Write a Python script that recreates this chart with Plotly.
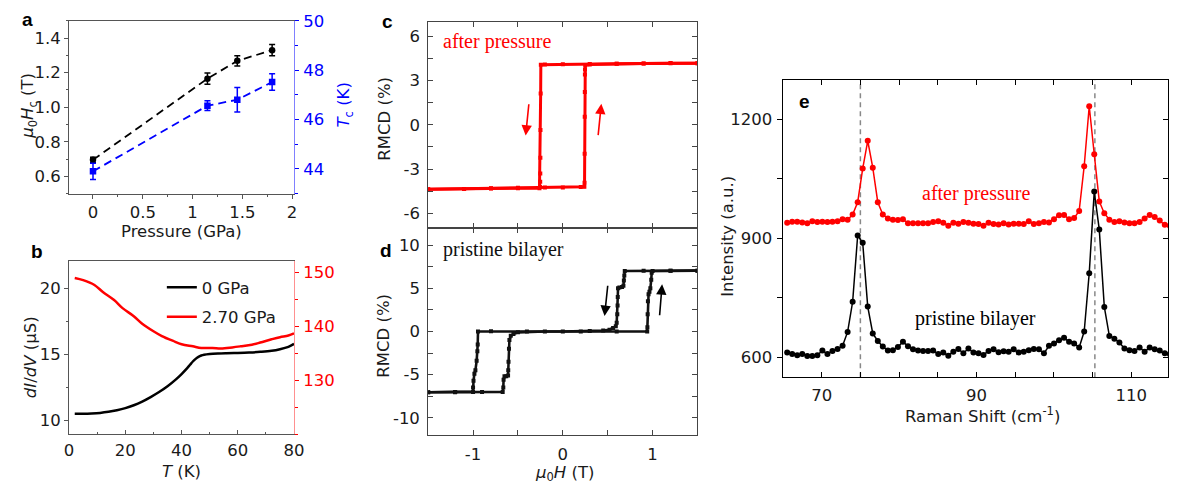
import plotly.graph_objects as go

W, H = 1179, 491

# ---------------- data ----------------
# panel a
pressure = [0.0, 1.15, 1.45, 1.80]
hc = [0.695, 1.165, 1.268, 1.33]
hc_err = [0.015, 0.033, 0.03, 0.033]
tc = [43.9, 46.56, 46.8, 47.52]
tc_err = [0.33, 0.2, 0.5, 0.33]

# panel b
temp_0 = [2, 5, 8, 11, 14, 17, 20, 23, 26, 29, 32, 35, 38, 40, 42, 43, 44, 45, 46, 47, 48, 50, 53, 56, 60, 64, 68, 72, 75, 78, 80]
didv_0 = [10.5, 10.5, 10.52, 10.56, 10.64, 10.76, 10.92, 11.14, 11.42, 11.76, 12.14, 12.58, 13.1, 13.5, 13.95, 14.2, 14.45, 14.65, 14.8, 14.9, 14.96, 15.02, 15.06, 15.08, 15.1, 15.13, 15.18, 15.26, 15.38, 15.56, 15.78]
temp_27 = [2, 5, 9, 12, 16, 19, 23, 26, 30, 33, 37, 40, 44, 47, 51, 54, 58, 61, 65, 68, 72, 75, 78, 80]
didv_27 = [149.0, 148.6, 147.7, 146.4, 144.9, 143.4, 141.9, 140.5, 139.1, 138.2, 137.3, 136.7, 136.3, 136.0, 136.0, 135.9, 136.1, 136.3, 136.6, 137.0, 137.6, 138.0, 138.3, 138.7]

# panel c (after pressure)
c_down_h = [1.5, 1.2, 0.9, 0.6, 0.3, 0.0, -0.2, -0.245, -0.247, -0.249, -0.25, -0.251, -0.252, -0.254, -0.26, -0.5, -0.8, -1.1, -1.5]
c_down_m = [4.18, 4.2, 4.17, 4.15, 4.13, 4.12, 4.1, 4.08, 2.12, -0.35, -2.23, -3.31, -3.87, -4.2, -4.3, -4.3, -4.32, -4.35, -4.38]
c_up_h = [-1.5, -1.1, -0.8, -0.5, -0.2, 0.0, 0.2, 0.24, 0.242, 0.243, 0.244, 0.245, 0.246, 0.247, 0.25, 0.3, 0.6, 0.9, 1.2, 1.5]
c_up_m = [-4.38, -4.35, -4.3, -4.28, -4.26, -4.25, -4.22, -4.2, -3.94, -1.97, 0.55, 2.23, 3.42, 3.75, 4.05, 4.1, 4.15, 4.17, 4.18, 4.18]
# sweep-direction arrows in c: (tail H, tail M, head H, head M)
c_arrows = [(-0.377, 1.5, -0.414, -0.73), (0.392, -0.8, 0.429, 1.44)]

# panel d (pristine bilayer)
d_down_h = [1.5, 1.2, 0.9, 0.69, 0.685, 0.68, 0.675, 0.66, 0.63, 0.615, 0.612, 0.61, 0.607, 0.6, 0.59, 0.56, 0.52, 0.45, 0.3, 0.0,
            -0.4, -0.8, -0.945, -0.948, -0.952, -0.96, -0.974, -0.985, -0.995, -1.0, -1.0, -1.2, -1.5]
d_down_m = [7.05, 7.05, 7.05, 7.0, 6.5, 5.9, 5.3, 5.15, 5.1, 5.0, 4.0, 3.0, 2.0, 1.0, 0.6, 0.4, 0.2, 0.1, 0.05, 0.0,
            0.0, 0.02, 0.0, -1.5, -2.3, -3.4, -4.5, -4.9, -5.7, -6.5, -7.0, -7.0, -7.05]
d_up_h = [-1.5, -1.2, -0.9, -0.67, -0.663, -0.66, -0.65, -0.63, -0.61, -0.608, -0.605, -0.6, -0.595, -0.58, -0.55, -0.5,
          -0.2, 0.2, 0.6, 0.94, 0.942, 0.945, 0.948, 0.955, 0.965, 0.975, 0.985, 0.99, 1.0, 1.2, 1.5]
d_up_m = [-7.05, -7.05, -7.0, -7.0, -6.5, -5.6, -5.2, -5.2, -5.1, -4.5, -3.5, -2.0, -1.0, -0.5, -0.3, -0.1,
          0.0, 0.0, 0.0, 0.0, 0.5, 2.0, 3.5, 4.3, 4.6, 5.0, 6.0, 6.8, 7.0, 7.05, 7.05]
d_arrows = [(0.502, 5.47, 0.465, 1.8), (1.077, 1.7, 1.106, 5.47)]

# panel e (Raman)
raman_shift = [65.54, 66.19, 66.84, 67.49, 68.14, 68.79, 69.44, 70.09, 70.74, 71.39,
               72.05, 72.70, 73.35, 74.00, 74.65, 75.30, 75.95, 76.60, 77.25, 77.90,
               78.55, 79.20, 79.85, 80.50, 81.15, 81.80, 82.45, 83.10, 83.75, 84.40,
               85.06, 85.71, 86.36, 87.01, 87.66, 88.31, 88.96, 89.61, 90.26, 90.91,
               91.56, 92.21, 92.86, 93.51, 94.16, 94.81, 95.46, 96.11, 96.76, 97.41,
               98.07, 98.72, 99.37, 100.02, 100.67, 101.32, 101.97, 102.62, 103.27, 103.92,
               104.57, 105.22, 105.87, 106.52, 107.17, 107.82, 108.47, 109.12, 109.77, 110.42,
               111.08, 111.73, 112.38, 113.03, 113.68, 114.33, 114.98]
raman_after = [939, 942, 942, 940, 938, 943, 941, 942, 941, 942,
               943, 948, 947, 960, 991, 1076, 1146, 1078, 991, 960,
               950, 947, 946, 948, 938, 938, 938, 938, 938, 941,
               943, 939, 932, 939, 937, 941, 939, 937, 936, 932,
               939, 936, 935, 938, 935, 937, 937, 936, 943, 936,
               938, 941, 940, 948, 958, 959, 948, 951, 969, 1082,
               1233, 1112, 993, 963, 947, 941, 943, 940, 938, 938,
               941, 950, 959, 954, 945, 934, 932]
raman_pristine = [612, 608, 605, 608, 603, 603, 605, 617, 608, 616,
                  621, 629, 664, 740, 907, 889, 728, 660, 641, 627,
                  617, 618, 626, 639, 628, 620, 617, 616, 616, 617,
                  608, 612, 604, 614, 621, 610, 622, 612, 610, 606,
                  616, 620, 613, 615, 614, 620, 612, 614, 618, 621,
                  620, 610, 629, 635, 643, 649, 639, 635, 625, 665,
                  812, 1018, 922, 727, 654, 647, 637, 622, 618, 616,
                  625, 614, 625, 620, 617, 610, 608]
peak_lines = [75.0, 105.3]

# ---------------- helpers ----------------
def fx(p):
    return p / W


def fy(p):
    return 1 - p / H


FONT = "DejaVu Sans"
FS = 16.5
TXT = "#1a1a1a"
RED = "#ff0000"
BLUE = "#0000ff"

fig = go.Figure()

# a
fig.add_trace(go.Scatter(x=pressure, y=hc, mode="lines+markers", xaxis="x", yaxis="y",
                         line=dict(color="black", width=1.8, dash="8px,5px"),
                         marker=dict(symbol="circle", size=6.5, color="black"),
                         error_y=dict(type="data", array=hc_err, color="black", thickness=1.5, width=3),
                         showlegend=False))
fig.add_trace(go.Scatter(x=pressure, y=tc, mode="lines+markers", xaxis="x", yaxis="y2",
                         line=dict(color=BLUE, width=1.8, dash="8px,5px"),
                         marker=dict(symbol="square", size=6.5, color=BLUE),
                         error_y=dict(type="data", array=tc_err, color=BLUE, thickness=1.5, width=3),
                         showlegend=False))
# b
fig.add_trace(go.Scatter(x=temp_0, y=didv_0, mode="lines", xaxis="x2", yaxis="y3", legendgroup="g0",
                         line=dict(color="black", width=2.5, shape="spline"), name="0 GPa"))
fig.add_trace(go.Scatter(x=temp_27, y=didv_27, mode="lines", xaxis="x2", yaxis="y4", legendgroup="g1",
                         line=dict(color=RED, width=2.5, shape="spline"), name="2.70 GPa"))
# c
for hh, mm in [(c_down_h, c_down_m), (c_up_h, c_up_m)]:
    fig.add_trace(go.Scatter(x=hh, y=mm, mode="lines+markers", xaxis="x3", yaxis="y5",
                             line=dict(color=RED, width=3), marker=dict(size=4, color=RED, symbol="square"),
                             showlegend=False))
# d
for hh, mm in [(d_down_h, d_down_m), (d_up_h, d_up_m)]:
    fig.add_trace(go.Scatter(x=hh, y=mm, mode="lines+markers", xaxis="x4", yaxis="y6",
                             line=dict(color="#111111", width=2.6), marker=dict(size=4, color="#111111", symbol="square"),
                             showlegend=False))
# e
fig.add_trace(go.Scatter(x=raman_shift, y=raman_after, mode="lines+markers", xaxis="x5", yaxis="y7",
                         line=dict(color=RED, width=1.5), marker=dict(size=6, color=RED), showlegend=False))
fig.add_trace(go.Scatter(x=raman_shift, y=raman_pristine, mode="lines+markers", xaxis="x5", yaxis="y7",
                         line=dict(color="black", width=1.5), marker=dict(size=6, color="black"), showlegend=False))
fig.add_trace(go.Scatter(x=[None], y=[None], xaxis="x5", yaxis="y8", showlegend=False, hoverinfo="skip"))

# ---------------- axes ----------------
tf = dict(family=FONT, size=FS, color=TXT)
common = dict(showgrid=False, zeroline=False, showline=True, tickfont=tf)

dom_ax = [fx(65), fx(293)]
dom_cx = [fx(429), fx(702)]
dom_ex = [fx(788.3), 1.0]


def minor(dt, col, length=2.5, where="outside"):
    return dict(dtick=dt, tick0=0, ticks=where, ticklen=length, tickcolor=col)


layout_axes = dict(
    xaxis=dict(domain=dom_ax, anchor="y", range=[-0.24, 2.02], tickvals=[0, 0.5, 1, 1.5, 2],
               ticktext=["0", "0.5", "1", "1.5", "2"], ticks="outside", ticklen=4, tickcolor="#555",
               minor=minor(0.25, "#555"), linecolor="#555", mirror=True, ticklabelstandoff=0, **common),
    yaxis=dict(domain=[fy(188), fy(12)], anchor="x", range=[0.5, 1.5], tickvals=[0.6, 0.8, 1.0, 1.2, 1.4],
               ticktext=["0.6", "0.8", "1.0", "1.2", "1.4"], ticks="outside", ticklen=4, tickcolor="#555",
               minor=minor(0.1, "#555"), linecolor="#555", ticklabelstandoff=0, **common),
    yaxis2=dict(overlaying="y", side="right", anchor="x", range=[43, 50], tickvals=[44, 46, 48, 50],
                ticks="outside", ticklen=4, tickcolor=BLUE, minor=minor(1, BLUE),
                linecolor="#8080ff", showgrid=False, zeroline=False, showline=True, ticklabelstandoff=1,
                tickfont=dict(family=FONT, size=FS, color=BLUE)),
    xaxis2=dict(domain=dom_ax, anchor="y3", range=[0, 80], tickvals=[0, 20, 40, 60, 80],
                ticks="inside", ticklen=4, tickcolor="#555", minor=minor(10, "#555", where="inside"),
                linecolor="#555", mirror=True, ticklabelstandoff=1, **common),
    yaxis3=dict(domain=[fy(433), fy(257)], anchor="x2", range=[8.96, 22.03], tickvals=[10, 15, 20],
                ticks="outside", ticklen=4, tickcolor="#555", minor=minor(2.5, "#555"),
                linecolor="#555", ticklabelstandoff=0, **common),
    yaxis4=dict(overlaying="y3", side="right", anchor="x2", range=[120, 152.1], tickvals=[130, 140, 150],
                ticks="outside", ticklen=4, tickcolor=RED, minor=minor(5, RED),
                linecolor="#ff9090", showgrid=False, zeroline=False, showline=True, ticklabelstandoff=1,
                tickfont=dict(family=FONT, size=FS, color=RED)),
    xaxis3=dict(domain=dom_cx, anchor="y5", range=[-1.5, 1.5], tickvals=[-1, 0, 1],
                showticklabels=False, ticks="inside", ticklen=5, tickcolor="#444",
                minor=minor(0.5, "#444", 5, "inside"),
                linecolor="#444", mirror="allticks", **common),
    yaxis5=dict(domain=[fy(223), fy(13)], anchor="x3", range=[-7, 7],
                tickvals=[-6, -3, 0, 3, 6], ticktext=["-6", "-3", "0", "3", "6"],
                ticks="inside", ticklen=5, tickcolor="#444", minor=minor(1.5, "#444", 5, "inside"),
                linecolor="#444", mirror="allticks", ticklabelstandoff=4, **common),
    xaxis4=dict(domain=dom_cx, anchor="y6", range=[-1.5, 1.5], tickvals=[-1, 0, 1],
                ticktext=["-1", "0", "1"],
                ticks="inside", ticklen=5, tickcolor="#444", minor=minor(0.5, "#444", 5, "inside"),
                linecolor="#444", mirror="allticks", ticklabelstandoff=4, **common),
    yaxis6=dict(domain=[fy(434), fy(223)], anchor="x4", range=[-12, 12],
                tickvals=[-10, -5, 0, 5, 10], ticktext=["-10", "-5", "0", "5", "10"],
                ticks="inside", ticklen=5, tickcolor="#444", minor=minor(2.5, "#444", 5, "inside"),
                linecolor="#444", mirror="allticks", ticklabelstandoff=4, **common),
    xaxis5=dict(domain=dom_ex, anchor="y7", range=[64.95, 114.75], tickvals=[70, 90, 110],
                ticks="inside", ticklen=5, tickcolor="black", minor=minor(5, "black", 5, "inside"),
                linecolor="black", mirror="allticks", ticklabelstandoff=3, **common),
    yaxis7=dict(domain=[fy(375), fy(72)], anchor="x5", range=[550, 1300],
                tickvals=[600, 900, 1200], ticks="outside", ticklen=5, tickcolor="black",
                minor=minor(150, "black", 5, "outside"),
                linecolor="black", ticklabelstandoff=1, **common),
    yaxis8=dict(overlaying="y7", side="right", anchor="x5", range=[550, 1300],
                tickvals=[600, 900, 1200], showticklabels=False,
                ticks="inside", ticklen=5, tickcolor="black", minor=minor(150, "black", 5, "inside"),
                linecolor="black", showgrid=False, zeroline=False, showline=True),
)

# ---------------- annotations ----------------
ann = []


def label(text, x, y, size=FS, color=TXT, angle=0, family=FONT, bold=False):
    t = f"<b>{text}</b>" if bold else text
    ann.append(dict(text=t, x=fx(x), y=fy(y), xref="paper", yref="paper", showarrow=False,
                    xanchor="center", yanchor="middle", textangle=angle,
                    font=dict(family=family, size=size, color=color)))


# panel letters
for t, x, y in [("a", 22.5, 11), ("b", 32, 247), ("c", 388, 13), ("d", 386, 246), ("e", 810.5, 94)]:
    label(t, x, y, size=19, bold=True, color="black", family="Liberation Sans")

# axis titles
label("Pressure (GPa)", 179, 227)
label("<i>μ</i><sub>0</sub><i>H</i><sub>c</sub> (T)", 24, 99, angle=-90)
label("<i>T</i><sub>c</sub> (K)", 344, 98, angle=-90, color=BLUE)
label("<i>T</i> (K)", 179, 471)
label("<i>dI</i>/<i>dV</i> (μS)", 26, 355, angle=-90)
label("RMCD (%)", 385, 112, angle=-90)
label("RMCD (%)", 384, 333, angle=-90)
label("<i>μ</i><sub>0</sub><i>H</i> (T)", 567, 473)
label("Intensity (a.u.)", 733, 232, angle=-90)
label("Raman Shift (cm<sup>-1</sup>)", 991, 414)

SERIF = "Liberation Serif"
ann.append(dict(text="after pressure", x=-0.736, y=5.66, xref="x3", yref="y5", showarrow=False,
                font=dict(family=SERIF, size=20, color=RED)))
ann.append(dict(text="pristine bilayer", x=-0.66, y=9.5, xref="x4", yref="y6", showarrow=False,
                font=dict(family=SERIF, size=20, color="#111111")))
ann.append(dict(text="after pressure", x=89.9, y=1014, xref="x5", yref="y7", showarrow=False,
                font=dict(family=SERIF, size=20, color=RED)))
ann.append(dict(text="pristine bilayer", x=89.9, y=697, xref="x5", yref="y7", showarrow=False,
                font=dict(family=SERIF, size=20, color="black")))

# sweep arrows
for arrs, xr, yr, col in [(c_arrows, "x3", "y5", RED), (d_arrows, "x4", "y6", "black")]:
    for x0, y0, x1, y1 in arrs:
        ann.append(dict(x=x1, y=y1, ax=x0, ay=y0, xref=xr, yref=yr, axref=xr, ayref=yr,
                        showarrow=True, arrowhead=2, arrowsize=1.3, arrowwidth=1.6, arrowcolor=col, text=""))

shapes = []
for v in peak_lines:
    shapes.append(dict(type="line", xref="x5", yref="y7 domain", x0=v, x1=v, y0=0, y1=1,
                       line=dict(color="#888888", width=1.5, dash="5px,4px"), layer="below"))

fig.update_layout(
    width=W, height=H, autosize=False,
    margin=dict(l=0, r=0, t=0, b=0, pad=0),
    paper_bgcolor="white", plot_bgcolor="white",
    font=dict(family=FONT, size=FS, color=TXT),
    legend=dict(x=fx(159), y=fy(266), xanchor="left", yanchor="top", bgcolor="rgba(0,0,0,0)",
                font=dict(family=FONT, size=FS, color=TXT), tracegroupgap=5),
    annotations=ann, shapes=shapes,
    **layout_axes,
)

fig.write_html("out.html")
